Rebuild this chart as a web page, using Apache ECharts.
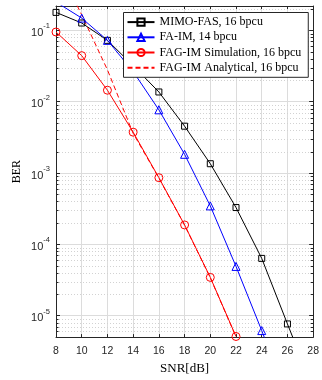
<!DOCTYPE html>
<html>
<head>
<meta charset="utf-8">
<script src="https://cdn.jsdelivr.net/npm/echarts@6/dist/echarts.min.js"></script>
<style>
html,body{margin:0;padding:0;background:#fff;}
#chart{width:322px;height:380px;}
</style>
</head>
<body>
<div id="chart"></div>
<script>
// ---- data ----
const snr = [8, 10, 12, 14, 16, 18, 20, 22, 24, 26, 28];
const xTicks = [8, 10, 12, 14, 16, 18, 20, 22, 24, 26, 28];
const mimoFas = [0.179, 0.127, 0.0725, 0.032, 0.0137, 0.00454, 0.00135, 3.28e-4, 6.35e-5, 7.65e-6, 9.5e-7];
const faIm = [0.25, 0.149, 0.0725, 0.0265, 0.0077, 0.00183, 3.46e-4, 4.9e-5, 6.17e-6, 7.0e-7];
const fagSim = [0.095, 0.0443, 0.0145, 0.00374, 8.6e-4, 1.87e-4, 3.44e-5, 5.1e-6];
const fagAna = [0.9, 0.165, 0.028, 0.0036, 8.5e-4, 1.86e-4, 3.4e-5, 5.05e-6];
const names = ['MIMO-FAS, 16 bpcu', 'FA-IM, 14 bpcu', 'FAG-IM Simulation, 16 bpcu', 'FAG-IM Analytical, 16 bpcu'];

const yMin = 5e-6, yMax = 0.22;
const xMin = xTicks[0], xMax = xTicks[xTicks.length - 1];

function pairs(vals) { return vals.map((v, i) => [snr[i], v]); }

// minor grid positions (2..9 x 10^k) inside the axis range
const minorVals = [];
for (let k = -6; k <= 0; k++) {
  for (let m = 2; m <= 9; m++) {
    const v = m * Math.pow(10, k);
    if (v >= yMin && v <= yMax) minorVals.push([xMin, v]);
  }
}

const axisColor = '#262626';
const tickFont = 'Liberation Sans, Arial, sans-serif';
const serif = 'Liberation Serif, Times New Roman, serif';
const colors = ['#000000', '#0000ff', '#ff0000', '#ff0000'];

const chart = echarts.init(document.getElementById('chart'), null, {renderer: 'canvas'});

function supLabel(v) {
  const e = Math.log10(v);
  if (Math.abs(e - Math.round(e)) > 1e-6) return '';
  return '{a|10}{b|' + Math.round(e) + '}';
}

function lineSeries(name, vals, color, symbol, size, dashed) {
  return {
    name: name,
    type: 'line',
    data: pairs(vals),
    xAxisIndex: 0, yAxisIndex: 0,
    symbol: symbol,
    symbolSize: size,
    showAllSymbol: true,
    clip: true,
    lineStyle: {color: color, width: 1, type: dashed ? [5, 3] : 'solid'},
    itemStyle: {color: 'rgba(0,0,0,0)', borderColor: color, borderWidth: 1},
    emphasis: {disabled: true},
    animation: false,
    z: 3
  };
}

const option = {
  animation: false,
  backgroundColor: '#fff',
  grid: {left: 56, right: 5.5, top: 6, bottom: 42, containLabel: false},
  legend: {
    data: [
      {name: names[0]},
      {name: names[1]},
      {name: names[2]},
      {name: names[3], itemStyle: {opacity: 0}}
    ],
    orient: 'vertical',
    left: 123.5, top: 12.5,
    padding: [2, 7, 2, 3],
    itemGap: 0,
    itemWidth: 27,
    itemHeight: 9,
    itemTextGap: 3,
    backgroundColor: '#fff',
    borderColor: axisColor,
    borderWidth: 1,
    textStyle: {fontFamily: serif, fontSize: 12, color: '#000', lineHeight: 15.2},
    z: 10
  },
  xAxis: [{
    type: 'value', min: xMin, max: xMax, interval: 2, position: 'bottom',
    name: 'SNR[dB]', nameLocation: 'middle', nameGap: 22,
    nameTextStyle: {fontFamily: serif, fontSize: 13, color: '#000'},
    axisLine: {show: true, lineStyle: {color: axisColor, width: 1}},
    axisTick: {show: true, inside: true, length: 3, lineStyle: {color: axisColor}},
    axisLabel: {fontFamily: tickFont, fontSize: 10.5, color: axisColor, margin: 9},
    splitLine: {show: true, lineStyle: {color: '#dcdcdc', width: 1}}
  }, {
    type: 'value', min: xMin, max: xMax, interval: 2, position: 'top',
    axisLine: {show: true, lineStyle: {color: axisColor, width: 1}},
    axisTick: {show: true, inside: true, length: 3, lineStyle: {color: axisColor}},
    axisLabel: {show: false},
    splitLine: {show: false}
  }],
  yAxis: [{
    type: 'log', logBase: 10, min: yMin, max: yMax, position: 'left',
    name: 'BER', nameLocation: 'middle', nameGap: 33, nameMoveOverlap: false,
    nameTextStyle: {fontFamily: serif, fontSize: 12, color: '#000'},
    axisLine: {show: true, lineStyle: {color: axisColor, width: 1}},
    axisTick: {show: true, inside: true, length: 4, lineStyle: {color: axisColor}},
    axisLabel: {
      margin: 6, formatter: supLabel,
      rich: {
        a: {fontFamily: tickFont, fontSize: 11, color: axisColor, lineHeight: 16, verticalAlign: 'bottom'},
        b: {fontFamily: tickFont, fontSize: 7.5, color: axisColor, lineHeight: 16, verticalAlign: 'top', padding: [0, 0, 5, 0]}
      }
    },
    splitLine: {show: true, lineStyle: {color: '#dcdcdc', width: 1}}
  }, {
    type: 'log', logBase: 10, min: yMin, max: yMax, position: 'right',
    axisLine: {show: true, lineStyle: {color: axisColor, width: 1}},
    axisTick: {show: true, inside: true, length: 4, lineStyle: {color: axisColor}},
    axisLabel: {show: false},
    splitLine: {show: false}
  }],
  series: [
    {
      name: 'minorGrid',
      type: 'custom',
      xAxisIndex: 0, yAxisIndex: 0,
      data: minorVals,
      encode: {x: 0, y: 1},
      silent: true,
      z: 1,
      renderItem: function (params, api) {
        const cs = params.coordSys;
        const y = Math.round(api.coord([api.value(0), api.value(1)])[1]) + 0.5;
        const x0 = cs.x, x1 = cs.x + cs.width;
        return {
          type: 'group',
          children: [
            {type: 'line', shape: {x1: x0, y1: y, x2: x1, y2: y},
             style: {stroke: '#d2d2d2', lineWidth: 1, lineDash: [1, 2]}},
            {type: 'line', shape: {x1: x0, y1: y, x2: x0 + 2.5, y2: y},
             style: {stroke: axisColor, lineWidth: 1}},
            {type: 'line', shape: {x1: x1 - 2.5, y1: y, x2: x1, y2: y},
             style: {stroke: axisColor, lineWidth: 1}}
          ]
        };
      }
    },
    lineSeries(names[0], mimoFas, colors[0], 'rect', 6, false),
    lineSeries(names[1], faIm, colors[1], 'triangle', 8, false),
    lineSeries(names[2], fagSim, colors[2], 'circle', 8, false),
    lineSeries(names[3], fagAna, colors[3], 'none', 0, true)
  ]
};
chart.setOption(option);
</script>
</body>
</html>
